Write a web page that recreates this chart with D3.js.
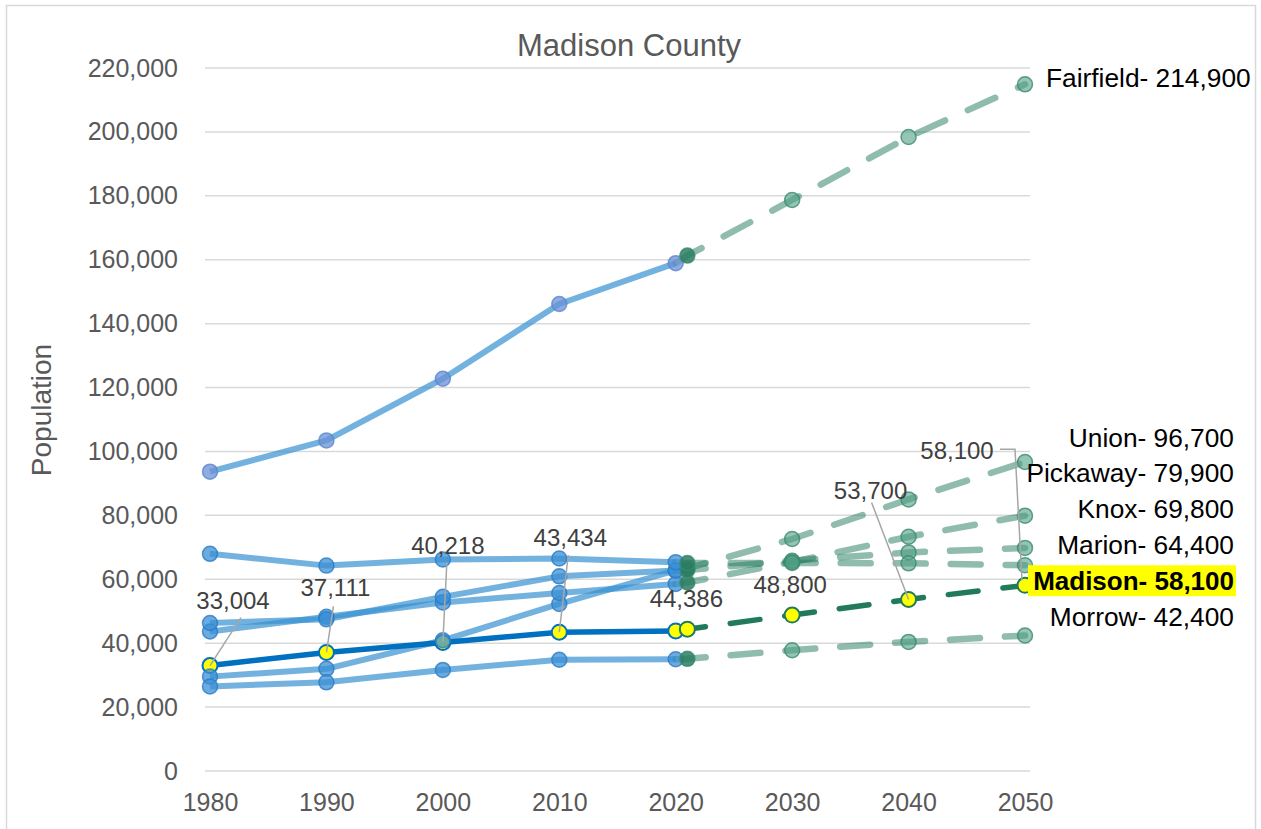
<!DOCTYPE html>
<html>
<head>
<meta charset="utf-8">
<script src="https://cdn.jsdelivr.net/npm/d3@7"></script>
<style>
body { margin: 0; background: #fff; }
text { font-family: "Liberation Sans", Arial, sans-serif; }
</style>
</head>
<body>
<div id="chart"></div>
<script>
// years
var histYears = [1980, 1990, 2000, 2010, 2020],
projYears = [2021, 2030, 2040, 2050],
xTicks = [1980, 1990, 2000, 2010, 2020, 2030, 2040, 2050],
yTicks = [0, 20000, 40000, 60000, 80000, 100000, 120000, 140000, 160000, 180000, 200000, 220000];

// census counts
var fairfieldHist = [93678, 103461, 122759, 146156, 158921],
unionHist = [29536, 31969, 40909, 52300, 62784],
pickawayHist = [43662, 48255, 52727, 55698, 58539],
knoxHist = [46304, 47473, 54500, 60921, 62721],
marionHist = [67974, 64274, 66217, 66501, 65359],
madisonHist = [33004, 37111, 40218, 43434, 43824],
morrowHist = [26480, 27749, 31628, 34827, 34976];

// projections
var fairfieldProj = [161300, 178700, 198400, 214900],
unionProj = [63400, 72600, 85000, 96700],
pickawayProj = [59000, 65400, 73300, 79900],
knoxProj = [62900, 65800, 68400, 69800],
marionProj = [65100, 65100, 65000, 64400],
madisonProj = [44386, 48800, 53700, 58100],
morrowProj = [35100, 37800, 40400, 42400];

var counties = ["Fairfield", "Union", "Pickaway", "Knox", "Marion", "Madison", "Morrow"];
var histVals = [fairfieldHist, unionHist, pickawayHist, knoxHist, marionHist, madisonHist, morrowHist];
var projVals = [fairfieldProj, unionProj, pickawayProj, knoxProj, marionProj, madisonProj, morrowProj];

var series = counties.map(function(name, i) {
  return {
    name: name,
    hist: histYears.map(function(yr, j) { return {year: yr, value: histVals[i][j]}; }),
    proj: projYears.map(function(yr, j) { return {year: yr, value: projVals[i][j]}; })
  };
});
var madison = series[5],
others = series.filter(function(s) { return s.name != "Madison"; });

var W = 1261, H = 829;
var fmt = d3.format(",");

var x = d3.scaleLinear().domain([1980, 2050]).range([210, 1025]),
y = d3.scaleLinear().domain([0, 220000]).range([771, 68]);

var svg = d3.select("#chart").append("svg")
  .attr("width", W)
  .attr("height", H);

svg.append("rect")
  .attr("x", 6.5).attr("y", 5.5)
  .attr("width", 1249).attr("height", 840)
  .attr("fill", "#fff")
  .attr("stroke", "#d9d9d9")
  .attr("stroke-width", 1.5);

// gridlines
svg.append("g").selectAll("line").data(yTicks).join("line")
  .attr("x1", x(1980) - 5).attr("x2", x(2050) + 5)
  .attr("y1", function(d) { return y(d); })
  .attr("y2", function(d) { return y(d); })
  .attr("stroke", "#d9d9d9")
  .attr("stroke-width", 1.5);

var yAxis = svg.append("g")
  .attr("transform", "translate(178,0)")
  .call(d3.axisLeft(y).tickValues(yTicks).tickFormat(fmt).tickSize(0).tickPadding(0));
var xAxis = svg.append("g")
  .attr("transform", "translate(0,771)")
  .call(d3.axisBottom(x).tickValues(xTicks).tickFormat(d3.format("d")).tickSize(0).tickPadding(22));
[yAxis, xAxis].forEach(function(g) {
  g.select(".domain").remove();
  g.selectAll("text")
    .attr("fill", "#595959")
    .style("font-size", "25px")
    .style("font-family", "'Liberation Sans', Arial, sans-serif");
});

svg.append("text")
  .attr("x", 629).attr("y", 56)
  .attr("text-anchor", "middle")
  .attr("fill", "#595959")
  .style("font-size", "31px")
  .text("Madison County");

svg.append("text")
  .attr("transform", "translate(51,410) rotate(-90)")
  .attr("text-anchor", "middle")
  .attr("fill", "#595959")
  .style("font-size", "28px")
  .text("Population");

var line = d3.line()
  .x(function(d) { return x(d.year); })
  .y(function(d) { return y(d.value); });

// projection paths start from the last census point
function projPath(s) {
  return line([s.hist[s.hist.length - 1]].concat(s.proj));
}

// historical lines
svg.append("g").selectAll("path").data(others).join("path")
  .attr("d", function(s) { return line(s.hist); })
  .attr("fill", "none")
  .attr("stroke", "rgb(56,145,209)")
  .attr("stroke-opacity", 0.7)
  .attr("stroke-width", 6)
  .attr("stroke-linejoin", "round");

// projected lines
svg.append("g").selectAll("path").data(others).join("path")
  .attr("d", projPath)
  .attr("fill", "none")
  .attr("stroke", "rgb(33,122,92)")
  .attr("stroke-opacity", 0.5)
  .attr("stroke-width", 6.5)
  .attr("stroke-linecap", "round")
  .attr("stroke-dasharray", "30,25");

svg.append("path")
  .attr("d", line(madison.hist))
  .attr("fill", "none")
  .attr("stroke", "#0070c0")
  .attr("stroke-width", 5.5);
svg.append("path")
  .attr("d", projPath(madison))
  .attr("fill", "none")
  .attr("stroke", "#217a5c")
  .attr("stroke-width", 5.5)
  .attr("stroke-linecap", "round")
  .attr("stroke-dasharray", "30,25");

// madison markers
svg.append("g").selectAll("circle").data(madison.hist).join("circle")
  .attr("cx", function(d) { return x(d.year); })
  .attr("cy", function(d) { return y(d.value); })
  .attr("r", 7.5)
  .attr("fill", "#ffff00")
  .attr("stroke", "#0070c0")
  .attr("stroke-width", 2);
svg.append("g").selectAll("circle").data(madison.proj).join("circle")
  .attr("cx", function(d) { return x(d.year); })
  .attr("cy", function(d) { return y(d.value); })
  .attr("r", 7.5)
  .attr("fill", "#ffff00")
  .attr("stroke", "#217a5c")
  .attr("stroke-width", 2);

// other markers
others.forEach(function(s) {
  svg.append("g").selectAll("circle").data(s.hist).join("circle")
    .attr("cx", function(d) { return x(d.year); })
    .attr("cy", function(d) { return y(d.value); })
    .attr("r", 7.5)
    .attr("fill", s.name == "Fairfield" ? "#6a90d6" : "#3a8fd6")
    .attr("fill-opacity", 0.75)
    .attr("stroke", s.name == "Fairfield" ? "#5b86d0" : "#2b7cc4")
    .attr("stroke-opacity", 0.8)
    .attr("stroke-width", 1.5);
  svg.append("g").selectAll("circle").data(s.proj).join("circle")
    .attr("cx", function(d) { return x(d.year); })
    .attr("cy", function(d) { return y(d.value); })
    .attr("r", 7.5)
    .attr("fill", function(d, i) { return i == 0 ? "#2b7d62" : "#4f9e83"; })
    .attr("fill-opacity", function(d, i) { return i == 0 ? 0.85 : 0.6; })
    .attr("stroke", "#3b8a6e")
    .attr("stroke-opacity", 0.8)
    .attr("stroke-width", 1.5);
});

// madison data labels: [label dx, dy] from the point, plus leader line points
var madPoints = madison.hist.slice(0, 4).concat(madison.proj);
var labelPos = [
  {dx: 23, dy: -65, lead: [[31, -48], [0, 0]]},
  {dx: 9, dy: -65, lead: [[7, -46], [0, 0]]},
  {dx: 5, dy: -97, lead: [[4, -80], [0, 0]]},
  {dx: 11, dy: -95, lead: [[9, -77], [0, 0]]},
  {dx: -1, dy: -31, lead: null},
  {dx: -2, dy: -31, lead: null},
  {dx: -38, dy: -109, lead: [[-37, -97], [0, 0]]},
  {dx: -68, dy: -135, lead: [[-25, -136], [-10, -136], [-3, -5]]}
];
madPoints.forEach(function(p, i) {
  var px = x(p.year), py = y(p.value), l = labelPos[i];
  if (l.lead) {
    svg.append("polyline")
      .attr("points", l.lead.map(function(o) { return (px + o[0]) + "," + (py + o[1]); }).join(" "))
      .attr("fill", "none")
      .attr("stroke", "#a6a6a6")
      .attr("stroke-width", 1.5);
  }
  svg.append("text")
    .attr("x", px + l.dx).attr("y", py + l.dy + 8.5)
    .attr("text-anchor", "middle")
    .attr("fill", "#404040")
    .style("font-size", "24px")
    .text(fmt(p.value));
});

// end labels
var last = function(s) { return s.proj[s.proj.length - 1].value; };
svg.append("text")
  .attr("x", 1046).attr("y", 87)
  .attr("fill", "#000")
  .style("font-size", "26.3px")
  .text("Fairfield- " + fmt(last(series[0])));

var stack = series.slice(1);
stack.forEach(function(s, i) {
  var ty = 437 + i * 35.8;
  if (s.name == "Madison") {
    svg.append("rect")
      .attr("x", 1028).attr("y", ty - 15)
      .attr("width", 208).attr("height", 31)
      .attr("fill", "#ffff00");
  }
  svg.append("text")
    .attr("x", 1234).attr("y", ty + 9.5)
    .attr("text-anchor", "end")
    .attr("fill", "#000")
    .style("font-size", s.name == "Madison" ? "26px" : "26.3px")
    .style("font-weight", s.name == "Madison" ? "bold" : "normal")
    .text(s.name + "- " + fmt(last(s)));
});
</script>
</body>
</html>
